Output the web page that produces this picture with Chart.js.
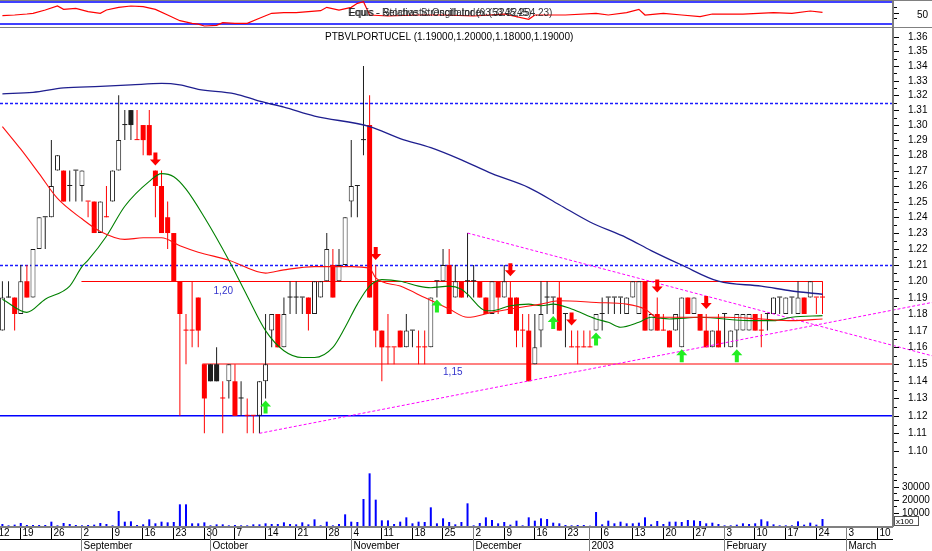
<!DOCTYPE html>
<html>
<head>
<meta charset="utf-8">
<script src="https://cdn.jsdelivr.net/npm/chart.js@4.4.1/dist/chart.umd.min.js"></script>
<style>
  html, body { margin: 0; padding: 0; background: #fff; }
  #wrap { position: relative; width: 932px; height: 551px; overflow: hidden; }
  #wrap canvas { position: absolute; left: 0; top: 0; }
</style>
</head>
<body>
<div id="wrap">
  <canvas id="rsiChart" width="932" height="551"></canvas>
  <canvas id="priceChart" width="932" height="551"></canvas>
  <canvas id="volChart" width="932" height="551"></canvas>
</div>
<script>
// ---- data (one entry per trading day, index 0 = 13 Aug 2002) ----
const opens = [1.17,1.19,1.19,1.18,1.20,1.19,1.22,1.24,1.24,1.27, 1.27,1.26,1.27,1.26,1.25,1.25,1.23,1.24,1.25,1.27,
  1.30,1.31,1.29,1.30,1.30,1.27,1.26,1.24,1.23,1.20, 1.17,1.17,1.19,1.15,1.15,1.15,1.13,1.14,1.14,1.13,
  1.12,1.12,1.12,1.14,1.17,1.18,1.16,1.19,1.19,1.19, 1.19,1.18,1.19,1.20,1.21,1.20,1.21,1.25,1.26,1.29,
  1.30,1.20,1.17,1.16,1.16,1.17,1.16,1.17,1.16,1.16, 1.16,1.20,1.20,1.21,1.19,1.20,1.20,1.20,1.20,1.19,
  1.18,1.20,1.19,1.19,1.19,1.17,1.17,1.15,1.17,1.19, 1.19,1.19,1.18,1.16,1.16,1.16,1.16,1.17,1.18,1.19,
  1.19,1.19,1.18,1.19,1.18,1.20,1.17,1.18,1.17,1.17, 1.17,1.16,1.19,1.18,1.18,1.17,1.16,1.17,1.18,1.16,
  1.17,1.17,1.17,1.18,1.17,1.18,1.18,1.19,1.18,1.19, 1.18,1.19,1.19,1.19,1.19];
const highs = [1.20,1.20,1.19,1.21,1.21,1.22,1.24,1.24,1.29,1.28, 1.27,1.27,1.27,1.27,1.25,1.25,1.25,1.26,1.27,1.32,
  1.31,1.31,1.31,1.30,1.31,1.27,1.27,1.25,1.23,1.20, 1.18,1.20,1.19,1.15,1.15,1.16,1.14,1.15,1.15,1.14,
  1.13,1.12,1.14,1.18,1.18,1.18,1.19,1.20,1.20,1.19, 1.19,1.20,1.20,1.23,1.22,1.22,1.24,1.29,1.26,1.34,
  1.32,1.21,1.17,1.18,1.16,1.17,1.18,1.17,1.17,1.17, 1.19,1.20,1.22,1.22,1.21,1.20,1.23,1.21,1.20,1.19,
  1.20,1.20,1.21,1.20,1.19,1.18,1.18,1.18,1.20,1.20, 1.19,1.20,1.18,1.17,1.17,1.17,1.17,1.18,1.19,1.19,
  1.19,1.19,1.19,1.20,1.20,1.20,1.18,1.19,1.18,1.17, 1.18,1.19,1.19,1.19,1.18,1.18,1.17,1.18,1.18,1.17,
  1.18,1.18,1.18,1.18,1.18,1.18,1.19,1.19,1.19,1.19, 1.20,1.19,1.20,1.19,1.20];
const lows = [1.17,1.19,1.17,1.18,1.19,1.19,1.22,1.22,1.24,1.27, 1.25,1.25,1.25,1.25,1.24,1.23,1.23,1.24,1.25,1.27,
  1.29,1.29,1.29,1.28,1.28,1.24,1.23,1.22,1.20,1.12, 1.15,1.16,1.16,1.11,1.14,1.14,1.11,1.13,1.12,1.12,
  1.11,1.11,1.11,1.13,1.16,1.16,1.16,1.18,1.18,1.18, 1.17,1.18,1.19,1.20,1.19,1.20,1.21,1.24,1.24,1.28,
  1.19,1.16,1.14,1.15,1.15,1.16,1.16,1.16,1.15,1.15, 1.16,1.19,1.20,1.18,1.19,1.19,1.19,1.19,1.19,1.18,
  1.18,1.18,1.19,1.18,1.16,1.16,1.14,1.15,1.16,1.18, 1.18,1.17,1.16,1.16,1.15,1.16,1.16,1.17,1.17,1.18,
  1.18,1.18,1.18,1.19,1.18,1.17,1.17,1.17,1.17,1.16, 1.17,1.16,1.18,1.18,1.17,1.16,1.16,1.16,1.16,1.16,
  1.16,1.17,1.17,1.17,1.16,1.17,1.18,1.18,1.18,1.18, 1.18,1.18,1.19,1.18,1.18];
const closes = [1.19,1.19,1.18,1.20,1.19,1.22,1.24,1.24,1.26,1.28, 1.25,1.26,1.27,1.27,1.25,1.23,1.25,1.24,1.27,1.29,
  1.30,1.30,1.29,1.29,1.28,1.26,1.23,1.23,1.20,1.18, 1.17,1.17,1.17,1.13,1.14,1.14,1.13,1.15,1.12,1.13,
  1.12,1.12,1.14,1.15,1.18,1.16,1.18,1.19,1.19,1.19, 1.18,1.20,1.20,1.22,1.19,1.21,1.24,1.26,1.26,1.29,
  1.19,1.17,1.16,1.16,1.16,1.16,1.17,1.17,1.16,1.16, 1.19,1.20,1.21,1.18,1.20,1.19,1.20,1.20,1.19,1.18,
  1.20,1.19,1.20,1.18,1.17,1.17,1.14,1.16,1.18,1.19, 1.19,1.17,1.18,1.16,1.16,1.16,1.16,1.18,1.18,1.19,
  1.19,1.19,1.19,1.20,1.20,1.17,1.18,1.17,1.17,1.16, 1.18,1.19,1.18,1.19,1.17,1.16,1.17,1.16,1.18,1.17,
  1.18,1.18,1.18,1.17,1.17,1.18,1.19,1.19,1.19,1.19, 1.19,1.18,1.20,1.19,1.19];
// volume in hundreds of shares (axis shows "x100")
const volumes = [1540,510,1030,2310,770,770,770,770,3330,510, 2310,1540,770,510,770,1030,2310,1540,510,11540,
  3330,3590,770,1280,5130,2050,3330,2820,3080,16670, 16670,2050,2050,2820,510,1280,1280,510,770,510,
  510,1280,1280,2050,1540,1540,2820,1540,1280,2820, 1280,5130,510,3330,510,1540,8970,3330,3080,20770,
  40510,20260,4360,4360,1540,3330,6670,2050,3330,3080, 14360,2050,5900,3080,1280,3080,17440,510,2310,6670,
  4620,2050,3080,1030,4100,510,6670,4100,5900,5380, 2560,2050,770,510,770,770,260,10770,1280,4100,
  2050,3330,2050,2050,2560,6670,1280,3850,1540,3330, 3330,3080,4620,4360,3850,2050,2560,1540,510,510,
  1030,2050,1540,2050,5130,3590,1280,510,510,510, 3590,1030,2560,1030,5380];

// moving averages (day index, price)
const maBlueK   = [0,5,10,16,21,26,29,32,38,42,46,51,60,65,70,75,80,86,91,96,102,106,111,117,124,129,134];
const maBlueVal = [1.321,1.322,1.325,1.326,1.327,1.328,1.327,1.324,1.321,1.316,1.312,1.306,1.299,1.291,1.285,1.277,1.268,1.259,1.248,1.237,1.227,1.219,1.210,1.200,1.197,1.194,1.192];
const maRedK   = [0,3,6,9,13,16,20,23,26,29,32,37,43,46,51,57,60,61,65,69,73,76,80,83,88,91,97,102,105,107,118,124,129,134];
const maRedVal = [1.299,1.284,1.268,1.252,1.239,1.231,1.226,1.227,1.227,1.222,1.218,1.213,1.205,1.207,1.209,1.209,1.208,1.202,1.197,1.190,1.183,1.178,1.181,1.183,1.186,1.188,1.187,1.186,1.183,1.178,1.178,1.177,1.176,1.177];
const maGreenK   = [0,4,7,11,13,14,17,20,24,26,28,30,33,37,40,43,46,49,51,54,56,58,60,62,65,68,70,73,75,76,79,80,83,86,88,90,93,97,99,101,104,106,109,114,122,126,129,134];
const maGreenVal = [1.189,1.181,1.189,1.197,1.209,1.213,1.228,1.247,1.263,1.268,1.266,1.258,1.240,1.213,1.191,1.170,1.158,1.154,1.154,1.160,1.172,1.186,1.197,1.201,1.200,1.197,1.196,1.197,1.195,1.192,1.182,1.182,1.185,1.186,1.185,1.186,1.183,1.177,1.175,1.172,1.175,1.178,1.177,1.178,1.176,1.176,1.178,1.179];

// RSI panel
const rsiK   = [0,2,4,5,7,9,10,12,14,16,17,19,21,23,25,27,29,31,32,33,35,36,38,40,42,44,46,48,50,52,53,55,57,58,59,60,63,68,72,77,82,86,87,92,97,99,102,104,105,108,111,114,116,121,126,129,132,134];
const rsiVal = [45.1,46.3,48.1,49.4,55.4,62.7,56.6,58.4,52.4,49.4,55.4,60.3,62.7,61.5,56.6,46.3,36.0,31.2,29.6,26.3,27.5,32.4,31.2,31.2,40.3,49.4,50.6,50.6,52.4,54.2,60.3,55.4,60.3,67.5,70.6,46.3,44.5,46.3,46.3,44.5,48.1,38.5,46.3,46.3,49.4,46.3,50.6,56.6,46.3,49.4,46.3,43.3,48.1,48.1,50.6,49.4,53.6,51.2];
const rsiLevels = [70, 30];

// signals (day index)
const sellSignals = [25, 61, 83, 93, 107, 115];
const buySignals  = [43, 71, 90, 97, 111, 120];

// drawn studies
const trendLineA = [[76, 1.23], [151.9, 1.155]];
const trendLineB = [[42, 1.11], [151.9, 1.187]];
const dottedLevels = [1.315, 1.21];
const supportLevel = 1.12;
const resistLevel = 1.20, resistFrom = 13, resistTo = 134;
const floorLevel = 1.15, floorFrom = 33;
const levelNotes = [{ k: 34.5, p: 1.194, text: '1,20' }, { k: 72, p: 1.145, text: '1,15' }];

// axis labels
const priceTicks = [1.10,1.11,1.12,1.13,1.14,1.15,1.16,1.17,1.18,1.19,1.20,1.21,1.22,1.23,1.24,1.25,1.26,1.27,1.28,1.29,1.30,1.31,1.32,1.33,1.34,1.35,1.36];
const volTicks = [10000, 20000, 30000];
const dayTickIdx = [-1,3,8,13,18,23,28,33,38,43,48,53,57,62,67,72,77,82,87,92,98,103,108,113,118,123,128,133,138,143];
const dayTickLabels = ['12','19','26','2','9','16','23','30','7','14','21','28','4','11','18','25','2','9','16','23','6','13','20','27','3','10','17','24','3','10'];
const monthTickIdx = [13,34,57,77,96,118,138];
const monthTickLabels = ['September','October','November','December','2003','February','March'];

const titleText = 'PTBVLPORTUCEL (1.19000,1.20000,1.18000,1.19000)';

// ---- layout ----
const AXIS_X = 893;
const X_MIN = -0.392, X_MAX = 145.52;
const FONT = '10px "Liberation Sans", Arial, sans-serif';

// candle colour: red when close falls, black when it rises, unchanged keeps the previous colour;
// hollow (rising) candles are always outlined in black
const tones = [];
closes.forEach((c, i) => {
  const prev = i > 0 ? closes[i - 1] : c;
  tones.push(c > prev ? 'k' : c < prev ? 'r' : (i > 0 ? tones[i - 1] : 'k'));
});
function toneColor(i) {
  if (closes[i] > opens[i]) return '#1e1e1e';
  return tones[i] === 'r' ? '#ff0000' : '#1e1e1e';
}

function xOpts() {
  return { type: 'linear', display: false, min: X_MIN, max: X_MAX, offset: false };
}
function baseOptions(top, bottom, y) {
  return {
    responsive: false,
    animation: false,
    events: [],
    layout: { padding: { left: 0, right: 932 - AXIS_X, top: top, bottom: bottom } },
    plugins: { legend: { display: false }, tooltip: { enabled: false } },
    scales: { x: xOpts(), y: y }
  };
}
function pts(ks, vals) { return ks.map((k, j) => ({ x: k, y: vals[j] })); }
function hline(ctx, x0, x1, y) { ctx.beginPath(); ctx.moveTo(x0, y); ctx.lineTo(x1, y); ctx.stroke(); }
function vline(ctx, x, y0, y1) { ctx.beginPath(); ctx.moveTo(x, y0); ctx.lineTo(x, y1); ctx.stroke(); }
function crisp(v) { return Math.round(v) + 0.5; }

function drawArrow(ctx, cx, tipY, dir, color) {
  // dir 1 = pointing down, -1 = pointing up
  const h = 13, head = 6, hw = 5.5, sw = 2;
  ctx.fillStyle = color;
  ctx.beginPath();
  ctx.moveTo(cx - sw, tipY - dir * h);
  ctx.lineTo(cx + sw, tipY - dir * h);
  ctx.lineTo(cx + sw, tipY - dir * head);
  ctx.lineTo(cx + hw, tipY - dir * head);
  ctx.lineTo(cx, tipY);
  ctx.lineTo(cx - hw, tipY - dir * head);
  ctx.lineTo(cx - sw, tipY - dir * head);
  ctx.closePath();
  ctx.fill();
}

// ---- RSI panel ----
const rsiDecor = {
  id: 'rsiDecor',
  beforeDatasetsDraw(chart) {
    const { ctx, scales: { y } } = chart;
    ctx.save();
    ctx.strokeStyle = '#0000ff';
    ctx.lineWidth = 1.3;
    rsiLevels.forEach(v => hline(ctx, 0, AXIS_X, y.getPixelForValue(v)));
    ctx.restore();
  },
  afterDraw(chart) {
    const { ctx, scales: { y } } = chart;
    ctx.save();
    ctx.fillStyle = '#222';
    ctx.font = FONT;
    ctx.textBaseline = 'middle';
    ctx.globalAlpha = 0.9;
    ctx.fillText('Equis - Relative Strength Index (53.3245)', 348, 13);
    ctx.fillText('Equis - Stochastic Oscillator (63.3245,254.23)', 349, 13);
    ctx.globalAlpha = 1;
    ctx.fillStyle = '#808080';
    ctx.fillRect(0, 0, 932, 1);
    ctx.fillRect(0, 27, 932, 1);
    ctx.fillRect(AXIS_X - 1, 0, 2, 28);
    ctx.fillStyle = '#000';
    [40, 50, 60].forEach(v => ctx.fillRect(AXIS_X + 1, Math.round(y.getPixelForValue(v)), v === 50 ? 5 : 3, 1));
    ctx.fillText('50', 917, 15);
    ctx.restore();
  }
};

new Chart(document.getElementById('rsiChart'), {
  type: 'line',
  data: {
    datasets: [{
      data: pts(rsiK, rsiVal),
      borderColor: '#ff0000',
      borderWidth: 1.2,
      pointRadius: 0,
      tension: 0
    }]
  },
  options: baseOptions(0, 551 - 28, { type: 'linear', display: false, min: 22.7, max: 73.6 }),
  plugins: [rsiDecor]
});

// ---- price panel ----
const priceDecor = {
  id: 'priceDecor',
  beforeDatasetsDraw(chart) {
    const { ctx, scales: { x, y } } = chart;
    ctx.save();
    ctx.strokeStyle = '#1a1aff';
    ctx.lineWidth = 1.3;
    ctx.setLineDash([3, 2]);
    dottedLevels.forEach(p => hline(ctx, 0, AXIS_X, crisp(y.getPixelForValue(p))));
    ctx.setLineDash([]);
    ctx.strokeStyle = '#0000ff';
    ctx.lineWidth = 1.5;
    hline(ctx, 0, AXIS_X, y.getPixelForValue(supportLevel));
    ctx.strokeStyle = '#ff0000';
    ctx.lineWidth = 1;
    hline(ctx, x.getPixelForValue(resistFrom) - 0.5, x.getPixelForValue(resistTo), crisp(y.getPixelForValue(resistLevel)));
    ctx.strokeStyle = '#ff8080';
    ctx.lineWidth = 2;
    hline(ctx, x.getPixelForValue(floorFrom) - 2, AXIS_X, Math.round(y.getPixelForValue(floorLevel)));
    ctx.restore();
  },
  afterDatasetsDraw(chart) {
    const { ctx, scales: { x, y } } = chart;
    ctx.save();
    sellSignals.forEach(k => drawArrow(ctx, x.getPixelForValue(k), y.getPixelForValue(highs[k]) - 5, 1, '#ff0000'));
    buySignals.forEach(k => drawArrow(ctx, x.getPixelForValue(k), y.getPixelForValue(lows[k]) + 2, -1, '#22ee22'));
    ctx.font = FONT;
    ctx.fillStyle = '#3333cc';
    ctx.textBaseline = 'middle';
    levelNotes.forEach(n => ctx.fillText(n.text, x.getPixelForValue(n.k), y.getPixelForValue(n.p)));
    ctx.restore();
  },
  afterDraw(chart) {
    const { ctx, scales: { y } } = chart;
    ctx.save();
    ctx.fillStyle = '#000';
    ctx.font = FONT;
    ctx.textBaseline = 'middle';
    ctx.fillText(titleText, 325, 37.5);
    ctx.fillStyle = '#7a7a7a';
    ctx.fillRect(AXIS_X - 1, 28, 2, 434);
    ctx.fillStyle = '#000';
    priceTicks.forEach((v, j) => {
      const yy = Math.round(y.getPixelForValue(v));
      ctx.fillRect(AXIS_X + 1, yy, 5, 1);
      ctx.fillText(v.toFixed(2), 908, yy + 0.5);
      if (j < priceTicks.length - 1) {
        const ym = Math.round(y.getPixelForValue((v + priceTicks[j + 1]) / 2));
        ctx.fillRect(AXIS_X + 1, ym, 3, 1);
      }
    });
    ctx.restore();
  }
};

const bodyData = opens.map((o, i) => ({ x: i, y: [Math.min(o, closes[i]), Math.max(o, closes[i])] }));
const wickData = lows.map((l, i) => ({ x: i, y: [l, highs[i]] }));
const isUp = c => c.type === 'data' && closes[c.dataIndex] > opens[c.dataIndex];

new Chart(document.getElementById('priceChart'), {
  type: 'bar',
  data: {
    datasets: [
      { type: 'line', data: pts(maBlueK, maBlueVal), borderColor: '#1f1f8f', borderWidth: 1.3, pointRadius: 0, cubicInterpolationMode: 'monotone' },
      { type: 'line', data: pts(maRedK, maRedVal), borderColor: '#ff1010', borderWidth: 1.1, pointRadius: 0, cubicInterpolationMode: 'monotone' },
      { type: 'line', data: pts(maGreenK, maGreenVal), borderColor: '#008000', borderWidth: 1.1, pointRadius: 0, cubicInterpolationMode: 'monotone' },
      { type: 'line', data: trendLineA.map(p => ({ x: p[0], y: p[1] })), borderColor: '#ff00ff', borderWidth: 1, borderDash: [3, 2], pointRadius: 0, clip: false },
      { type: 'line', data: trendLineB.map(p => ({ x: p[0], y: p[1] })), borderColor: '#ff00ff', borderWidth: 1, borderDash: [3, 2], pointRadius: 0, clip: false },
      {
        data: bodyData,
        grouped: false,
        barThickness: 5,
        minBarLength: 1,
        borderSkipped: false,
        inflateAmount: 0,
        backgroundColor: c => c.type !== 'data' ? '#fff' : (isUp(c) ? '#ffffff' : toneColor(c.dataIndex)),
        borderColor: c => c.type !== 'data' ? '#000' : toneColor(c.dataIndex),
        borderWidth: c => isUp(c) ? 1 : 0
      },
      {
        data: wickData,
        grouped: false,
        barThickness: 1,
        minBarLength: 1,
        inflateAmount: 0,
        borderWidth: 0,
        backgroundColor: c => c.type !== 'data' ? '#000' : toneColor(c.dataIndex)
      }
    ]
  },
  options: baseOptions(28, 551 - 462, { type: 'logarithmic', display: false, min: 1.0938, max: 1.3663 }),
  plugins: [priceDecor]
});

// ---- volume panel + date axis ----
const volDecor = {
  id: 'volDecor',
  afterDraw(chart) {
    const { ctx, scales: { x, y } } = chart;
    ctx.save();
    ctx.font = FONT;
    ctx.textBaseline = 'middle';
    // value axis
    ctx.fillStyle = '#7a7a7a';
    ctx.fillRect(AXIS_X - 1, 462, 2, 65);
    ctx.fillStyle = '#000';
    for (let v = 5000; v <= 45000; v += 5000) {
      const yy = Math.round(y.getPixelForValue(v));
      ctx.fillRect(AXIS_X + 1, yy, volTicks.includes(v) ? 5 : 3, 1);
    }
    volTicks.forEach(v => ctx.fillText(String(v), 902, Math.round(y.getPixelForValue(v)) + 0.5));
    ctx.fillStyle = '#fff';
    ctx.fillRect(894, 516, 25, 9);
    ctx.strokeStyle = '#555';
    ctx.lineWidth = 1;
    ctx.strokeRect(894.5, 516.5, 24, 9);
    ctx.fillStyle = '#000';
    ctx.font = '8px "Liberation Sans", Arial, sans-serif';
    ctx.fillText('x100', 896, 521.5);
    // date axis
    ctx.font = FONT;
    ctx.fillStyle = '#808080';
    ctx.fillRect(0, 526, AXIS_X, 2);
    ctx.fillStyle = '#000';
    ctx.fillRect(0, 539, AXIS_X, 1);
    ctx.strokeStyle = '#000';
    dayTickIdx.forEach((k, j) => {
      const xx = crisp(x.getPixelForValue(k) - 0.7);
      vline(ctx, xx, 528, 539);
      ctx.fillText(dayTickLabels[j], xx + 2, 533.5);
    });
    ctx.strokeStyle = '#808080';
    monthTickIdx.forEach((k, j) => {
      const xx = crisp(x.getPixelForValue(k) - 0.7);
      vline(ctx, xx, 528, 551);
      ctx.fillText(monthTickLabels[j], xx + 2, 546);
    });
    ctx.restore();
  }
};

new Chart(document.getElementById('volChart'), {
  type: 'bar',
  data: {
    datasets: [{
      data: volumes.map((v, i) => ({ x: i, y: v })),
      backgroundColor: '#0000ff',
      barThickness: 2,
      inflateAmount: 0,
      borderWidth: 0
    }]
  },
  options: baseOptions(462, 551 - 526, { type: 'linear', display: false, min: 0, max: 49230 }),
  plugins: [volDecor]
});
</script>
</body>
</html>
